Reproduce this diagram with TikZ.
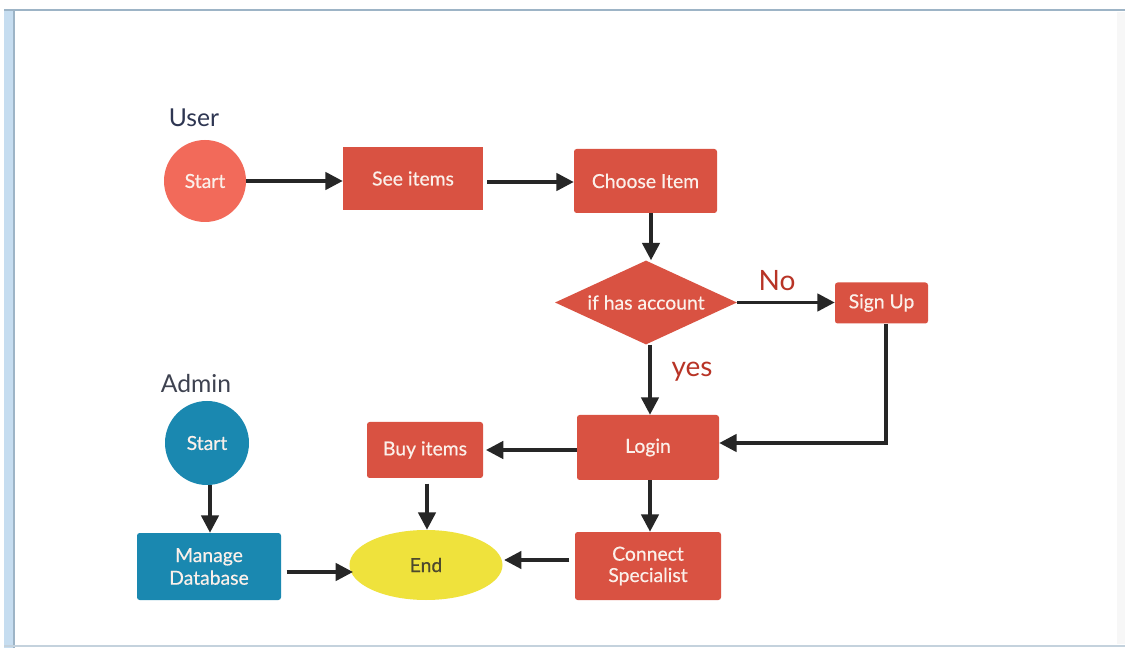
\documentclass[tikz,border=0pt]{standalone}
\usepackage{fontspec}
\setmainfont{Lato}
\newfontfamily\boxfont[FakeBold=0.5]{Lato}
\usetikzlibrary{arrows.meta,shapes.geometric}
\definecolor{boxred}{HTML}{D95242}
\definecolor{startred}{HTML}{F26A5A}
\definecolor{teal}{HTML}{1A88B0}
\definecolor{endyel}{HTML}{EFE23C}
\definecolor{lblred}{HTML}{B83426}
\definecolor{lblnavy}{HTML}{2E3652}
\definecolor{lblgrey}{HTML}{3E4250}
\definecolor{frameblue}{HTML}{C6DDF0}
\definecolor{frameline}{HTML}{9DB4C6}
\definecolor{boxtext}{HTML}{FBF0EA}
\tikzset{
  boxtxt/.style={text=boxtext, font=\boxfont\fontsize{14.5}{16}\selectfont, align=center},
  procbox/.style={boxtxt, fill=boxred, rounded corners=2pt, inner sep=0pt},
  adminbox/.style={boxtxt, fill=teal, rounded corners=2pt, inner sep=0pt},
  startnode/.style={boxtxt, circle, inner sep=0pt},
  decision/.style={boxtxt, diamond, fill=boxred, inner sep=0pt},
  endnode/.style={ellipse, fill=endyel, text=black!60!olive, font=\boxfont\fontsize{14.5}{16}\selectfont, inner sep=0pt},
  conn/.style={draw=black!85, line width=2.6pt, -{Triangle[length=13pt,width=13pt]}},
  lane/.style={font=\fontsize{18.5}{20}\selectfont},
  cond/.style={text=lblred, font=\fontsize{21}{23}\selectfont},
}
\begin{document}
\begin{tikzpicture}[x=0.75pt,y=-0.75pt]
\useasboundingbox (0,0) rectangle (1125,648);
\fill[white] (0,0) rectangle (1125,648);
% frame
\fill[frameblue] (4,10) rectangle (15,648);
\draw[frameline, line width=1.2pt] (14,10) -- (14,648);
\draw[frameline, line width=1.5pt] (4,10) -- (1125,10);
\draw[frameline!60, line width=1.2pt] (4,646) -- (1125,646);
\fill[black!3] (1117,12) rectangle (1125,644);
% labels
\node[lane, text=lblnavy] (user) at (194,118) {User};
\node[lane, text=lblgrey] (admin) at (196,384) {Admin};
% user flow
\node[startnode, fill=startred, minimum size=82*0.75pt] (ustart) at (205,181) {Start};
\node[procbox, minimum width=140*0.75pt, minimum height=63*0.75pt, rounded corners=0pt] (see) at (413,178.5) {See items};
\node[procbox, minimum width=143*0.75pt, minimum height=64*0.75pt] (choose) at (645.5,181) {Choose Item};
\node[decision, minimum width=182*0.75pt, minimum height=84*0.75pt, aspect=2.17] (acct) at (646,302.5) {if has account};
\node[procbox, minimum width=93*0.75pt, minimum height=41*0.75pt] (signup) at (881.5,303) {Sign Up};
\node[procbox, minimum width=142*0.75pt, minimum height=65*0.75pt] (login) at (648,447.5) {Login};
\node[procbox, minimum width=116*0.75pt, minimum height=56*0.75pt] (buy) at (425,450) {Buy items};
\node[procbox, minimum width=146*0.75pt, minimum height=68*0.75pt] (conn) at (648,566) {Connect\\[0pt]Specialist};
\node[endnode, minimum width=153*0.75pt, minimum height=70*0.75pt] (end) at (426,565) {End};
% admin flow
\node[startnode, fill=teal, minimum size=84*0.75pt] (astart) at (207,443) {Start};
\node[adminbox, minimum width=144*0.75pt, minimum height=67*0.75pt] (manage) at (209,566.5) {Manage\\[1pt]Database};
% condition labels
\node[cond] (no) at (777,281) {No};
\node[cond] (yes) at (692,372) {yes};
% connectors
\draw[conn] (ustart.east |- 0,181) -- (see.west |- 0,181);
\draw[conn] ([xshift=3pt]see.east |- 0,182) -- (choose.west |- 0,182);
\draw[conn] (choose.south -| 651,0) -- (acct.north -| 651,0);
\draw[conn] (acct.east) -- (signup.west |- acct.east);
\draw[conn] (acct.south -| 650,0) -- (login.north -| 650,0);
\coordinate (turn) at (886,443);
\draw[conn] (signup.south -| 886,0) -- (turn) -- (login.east |- turn);
\draw[conn] (login.west |- 0,450) -- ([xshift=2pt]buy.east |- 0,450);
\draw[conn] ([yshift=-4pt]buy.south -| 427,0) -- (end.north -| 427,0);
\draw[conn] (login.south -| 650,0) -- (conn.north -| 650,0);
\draw[conn] ([xshift=-4pt]conn.west |- 0,560) -- ([xshift=1pt]end.east |- 0,560);
\draw[conn] (astart.south -| 210,0) -- (manage.north -| 210,0);
\draw[conn] ([xshift=4pt]manage.east |- 0,572) -- (353,572);
\end{tikzpicture}
\end{document}
